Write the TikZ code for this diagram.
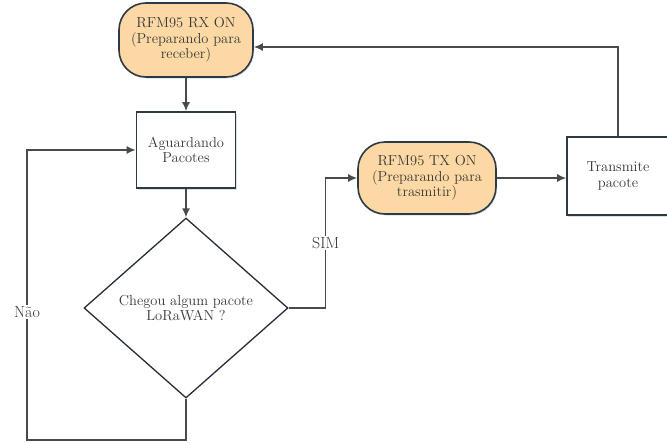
\documentclass[tikz,border=0pt]{standalone}
\usetikzlibrary{arrows.meta,positioning,shapes.geometric,shadows}
\definecolor{Peach}{HTML}{FCD9A4}
\definecolor{Edge}{HTML}{2E3946}
\definecolor{Wire}{HTML}{4A4A4A}
\definecolor{Ink}{HTML}{383838}

\begin{document}
\begin{tikzpicture}[x=1pt,y=-1pt,every node/.style={font=\fontsize{14.5}{15.5}\selectfont,align=center,text=Ink},
softshadow/.style={drop shadow={opacity=0.25,shadow xshift=1pt,shadow yshift=-1.5pt}},
radio/.style={draw=Edge,line width=1.6pt,rounded corners=27pt,fill=Peach,minimum width=134pt,minimum height=74pt,softshadow},
stage/.style={draw=Edge,line width=1.6pt,fill=white,minimum width=99pt,minimum height=76pt,softshadow},
query/.style={diamond,draw=Edge!80!black,line width=1.3pt,fill=white,inner sep=0pt,minimum width=204pt,minimum height=180pt},
arrow/.style={-{Latex[length=9pt,width=8pt]},line width=1.5pt,Wire},
tag/.style={fill=white,inner sep=1.5pt,font=\fontsize{16}{17}\selectfont}]
\useasboundingbox (0,0) rectangle (667,442);
% states
\node[radio] (rxon) at (186,40) {RFM95 RX ON\\(Preparando para\\receber)};
\node[stage] (wait) at (186,150) {Aguardando\\Pacotes};
\node[query] (got) at (186,308) {Chegou algum pacote\\LoRaWAN ?};
\node[radio,minimum width=138pt,minimum height=72pt] (txon) at (427,178) {RFM95 TX ON\\(Preparando para\\trasmitir)};
\node[stage,minimum width=102pt,minimum height=78pt] (send) at (618,176) {Transmite\\pacote};
\coordinate (loop) at (27,440);
% connectors
\draw[arrow] (rxon) -- (wait);
\draw[arrow] (wait) -- (got);
\draw[arrow] (got.east) -- ++(37,0) |- node[pos=0.25,tag]{SIM} (txon.west);
\draw[arrow] (txon.east) -- (txon.east -| send.west);
\draw[arrow] (send.north) |- ([yshift=-7pt]rxon.east);
\draw[arrow] (got.south) |- (loop) |- node[pos=0.22,tag]{Não} (wait.west);
\end{tikzpicture}
\end{document}
